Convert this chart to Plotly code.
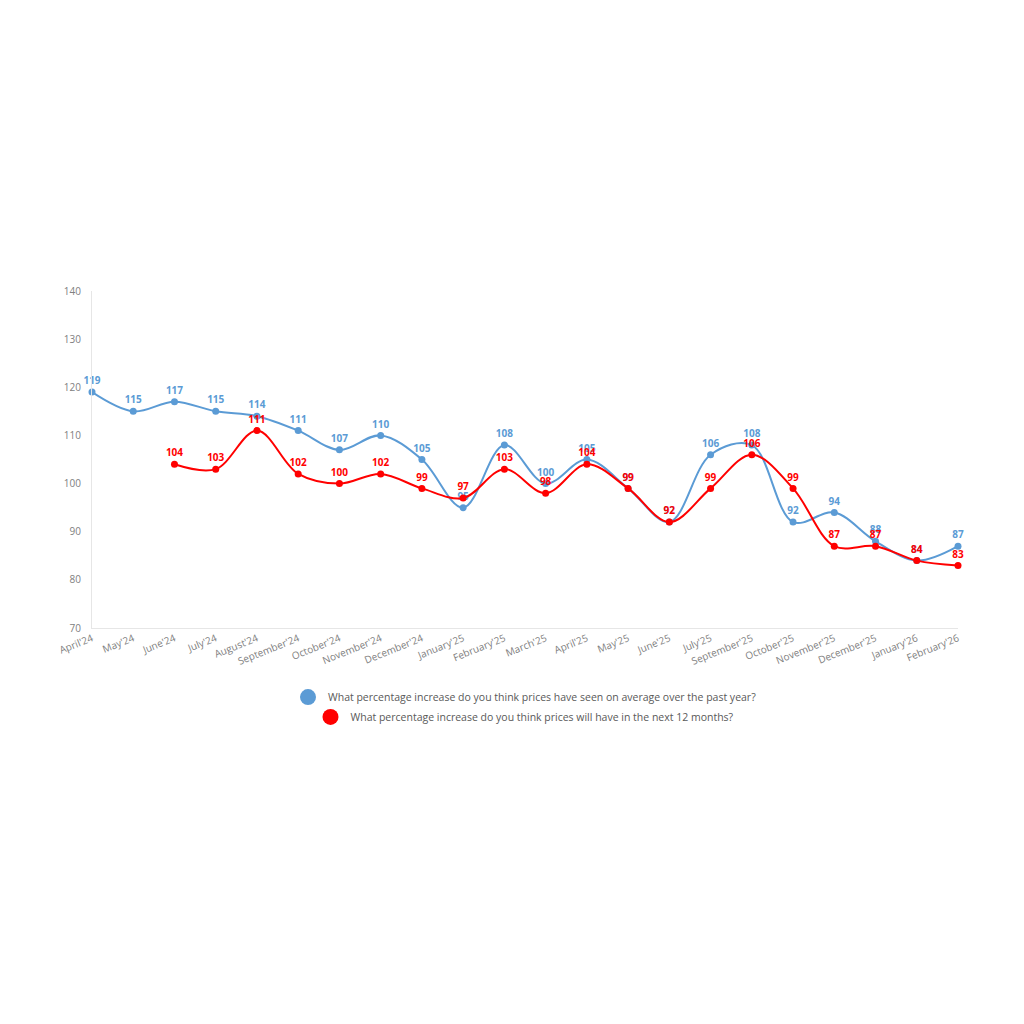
import plotly.graph_objects as go

categories = ["April'24", "May'24", "June'24", "July'24", "August'24", "September'24",
              "October'24", "November'24", "December'24", "January'25", "February'25",
              "March'25", "April'25", "May'25", "June'25", "July'25", "September'25",
              "October'25", "November'25", "December'25", "January'26", "February'26"]
past_year = [119, 115, 117, 115, 114, 111, 107, 110, 105, 95, 108, 100, 105, 99, 92,
             106, 108, 92, 94, 88, 84, 87]
next_12m = [None, None, 104, 103, 111, 102, 100, 102, 99, 97, 103, 98, 104, 99, 92,
            99, 106, 99, 87, 87, 84, 83]

name_past = "What percentage increase do you think prices have seen on average over the past year?"
name_next = "What percentage increase do you think prices will have in the next 12 months?"

blue = "#5B9BD5"
red = "#FF0000"

fig = go.Figure()
for name, vals, col, leg in [(name_past, past_year, blue, "legend"), (name_next, next_12m, red, "legend2")]:
    fig.add_trace(go.Scatter(
        x=categories, y=vals, name=name, mode="lines+markers+text",
        line=dict(color=col, width=2, shape="spline", smoothing=1.0),
        marker=dict(color=col, size=7),
        text=[("" if v is None else str(v)) for v in vals],
        textposition="top center",
        textfont=dict(color=col, size=10, family="Open Sans", weight="bold"),
        connectgaps=False, cliponaxis=False, showlegend=False,
    ))
    fig.add_trace(go.Scatter(
        x=[None], y=[None], name=name, mode="markers",
        marker=dict(color=col, size=18), showlegend=True, legend=leg,
    ))

legend_common = dict(orientation="h", x=0.5, xanchor="center", yanchor="middle",
                     font=dict(size=10.5, color="#595959"), itemsizing="trace",
                     bgcolor="rgba(0,0,0,0)", itemwidth=30)

fig.update_layout(
    width=1024, height=1024,
    paper_bgcolor="white", plot_bgcolor="white",
    margin=dict(l=84, r=74, t=283, b=404),
    font=dict(family="Open Sans", color="#595959"),
    legend=dict(y=-0.205, **legend_common),
    legend2=dict(y=-0.264, **legend_common),
    xaxis=dict(type="category", range=[0, len(categories) - 1], showgrid=False,
               showline=True, linecolor="#e6e6e6", tickangle=-22,
               tickfont=dict(size=10, color="#808080"), ticks="", automargin=False),
    yaxis=dict(range=[70, 140], dtick=10, showgrid=False, showline=True,
               linecolor="#e6e6e6", zeroline=False, ticklabelstandoff=8,
               tickfont=dict(size=10, color="#808080"), ticks="", automargin=False),
)

fig.write_html("out.html")
